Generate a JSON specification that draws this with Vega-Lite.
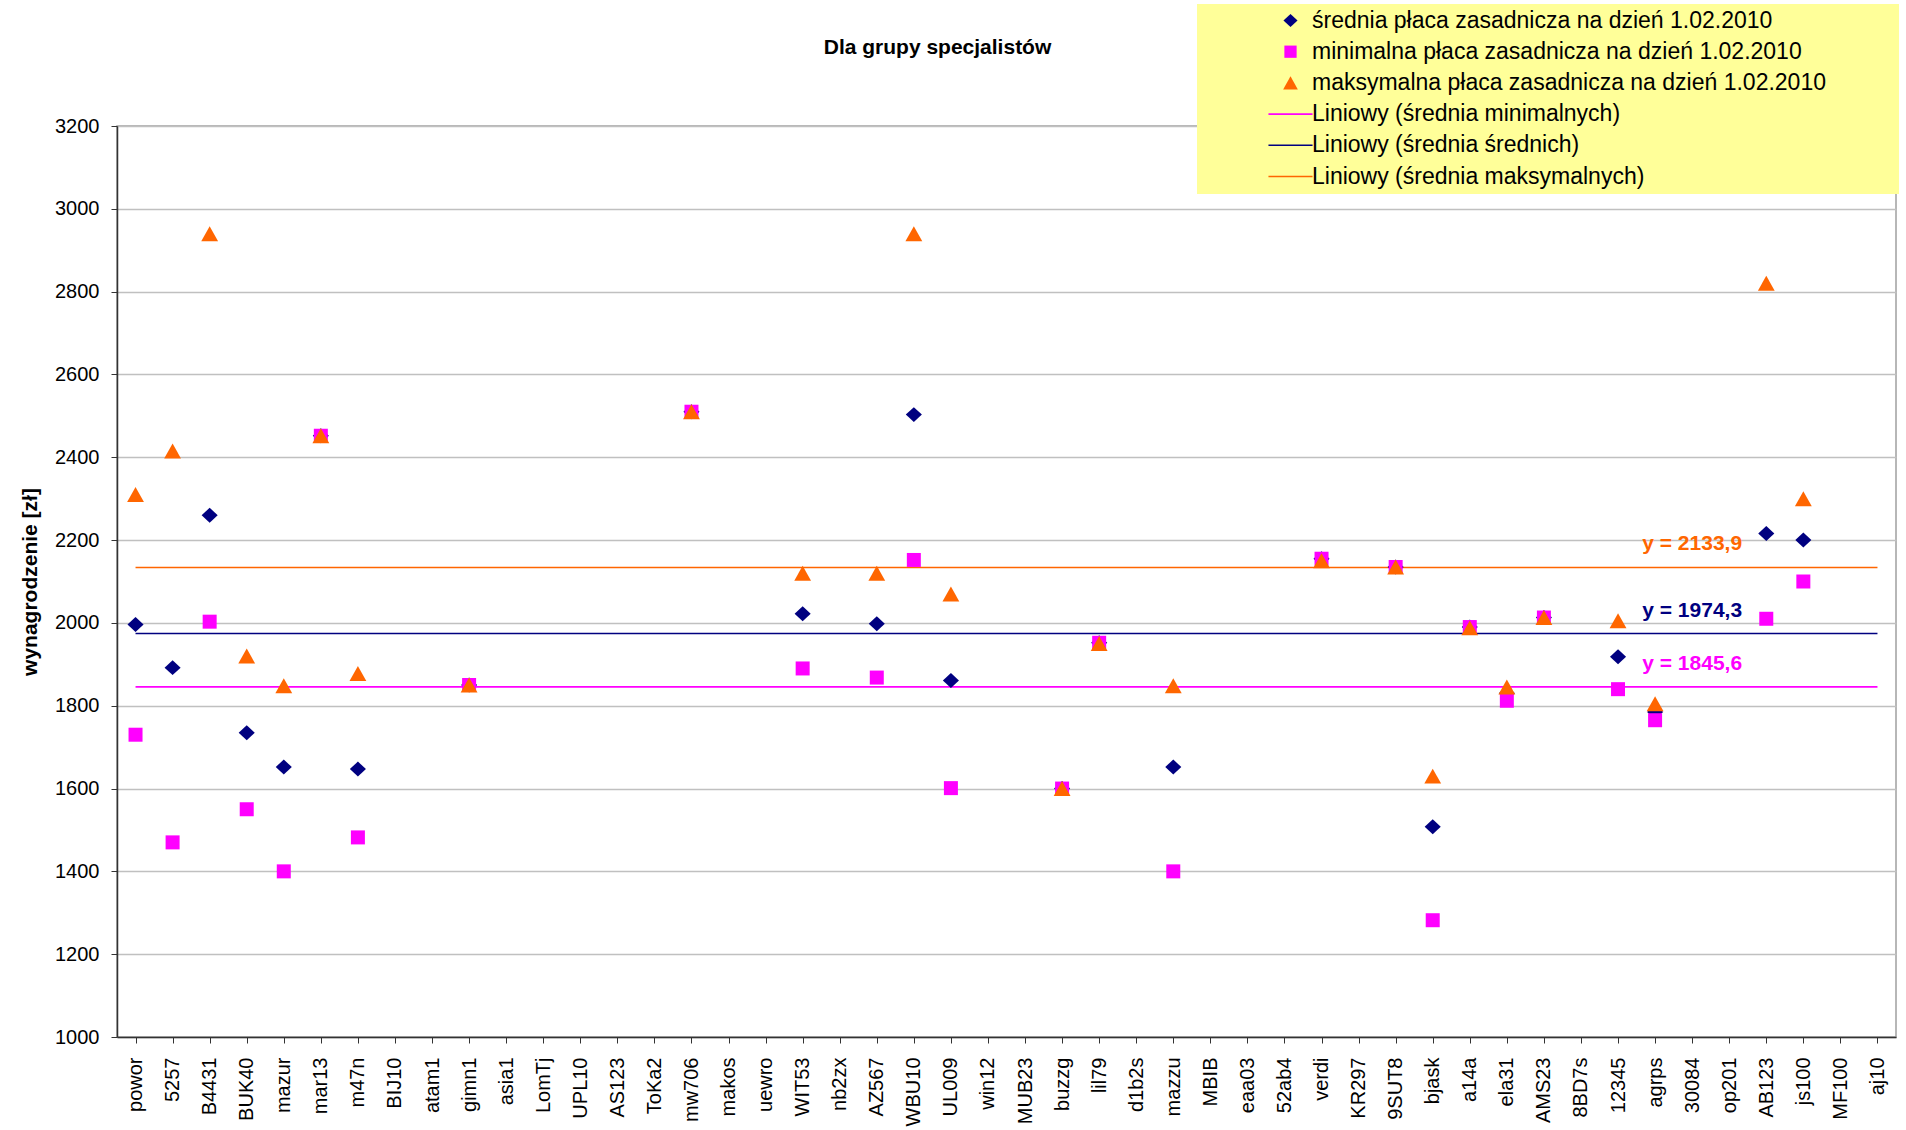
{
  "$schema": "https://vega.github.io/schema/vega-lite/v6.json",
  "width": 1779,
  "height": 911,
  "autosize": {"type": "none"},
  "padding": {"left": 117, "top": 126, "right": 10, "bottom": 93},
  "background": "white",
  "title": {"text": "Dla grupy specjalistów", "font": "Liberation Sans", "fontSize": 21, "fontWeight": "bold", "color": "#000000", "anchor": "middle", "dx": -69, "offset": -54},
  "config": {
    "view": {"stroke": "#a0a0a0", "strokeWidth": 1.5},
    "axis": {"labelFont": "Liberation Sans", "labelColor": "#000000", "titleFont": "Liberation Sans", "titleColor": "#000000"}
  },
  "resolve": {"legend": {"color": "independent", "shape": "independent"}},
  "datasets": {
    "pts": [
      {"kod": "powor", "seria": "średnia płaca zasadnicza na dzień 1.02.2010", "wartosc": 1996},
      {"kod": "5257", "seria": "średnia płaca zasadnicza na dzień 1.02.2010", "wartosc": 1892},
      {"kod": "B4431", "seria": "średnia płaca zasadnicza na dzień 1.02.2010", "wartosc": 2260},
      {"kod": "BUK40", "seria": "średnia płaca zasadnicza na dzień 1.02.2010", "wartosc": 1735},
      {"kod": "mazur", "seria": "średnia płaca zasadnicza na dzień 1.02.2010", "wartosc": 1652},
      {"kod": "mar13", "seria": "średnia płaca zasadnicza na dzień 1.02.2010", "wartosc": 2452},
      {"kod": "m47n", "seria": "średnia płaca zasadnicza na dzień 1.02.2010", "wartosc": 1647},
      {"kod": "gimn1", "seria": "średnia płaca zasadnicza na dzień 1.02.2010", "wartosc": 1850},
      {"kod": "mw706", "seria": "średnia płaca zasadnicza na dzień 1.02.2010", "wartosc": 2510},
      {"kod": "WIT53", "seria": "średnia płaca zasadnicza na dzień 1.02.2010", "wartosc": 2022},
      {"kod": "AZ567", "seria": "średnia płaca zasadnicza na dzień 1.02.2010", "wartosc": 1998},
      {"kod": "WBU10", "seria": "średnia płaca zasadnicza na dzień 1.02.2010", "wartosc": 2503},
      {"kod": "UL009", "seria": "średnia płaca zasadnicza na dzień 1.02.2010", "wartosc": 1861},
      {"kod": "buzzg", "seria": "średnia płaca zasadnicza na dzień 1.02.2010", "wartosc": 1600},
      {"kod": "lil79", "seria": "średnia płaca zasadnicza na dzień 1.02.2010", "wartosc": 1952},
      {"kod": "mazzu", "seria": "średnia płaca zasadnicza na dzień 1.02.2010", "wartosc": 1652},
      {"kod": "verdi", "seria": "średnia płaca zasadnicza na dzień 1.02.2010", "wartosc": 2155},
      {"kod": "9SUT8", "seria": "średnia płaca zasadnicza na dzień 1.02.2010", "wartosc": 2135},
      {"kod": "bjask", "seria": "średnia płaca zasadnicza na dzień 1.02.2010", "wartosc": 1508},
      {"kod": "a14a", "seria": "średnia płaca zasadnicza na dzień 1.02.2010", "wartosc": 1990},
      {"kod": "ela31", "seria": "średnia płaca zasadnicza na dzień 1.02.2010", "wartosc": 1830},
      {"kod": "AMS23", "seria": "średnia płaca zasadnicza na dzień 1.02.2010", "wartosc": 2013},
      {"kod": "12345", "seria": "średnia płaca zasadnicza na dzień 1.02.2010", "wartosc": 1918},
      {"kod": "agrps", "seria": "średnia płaca zasadnicza na dzień 1.02.2010", "wartosc": 1785},
      {"kod": "AB123", "seria": "średnia płaca zasadnicza na dzień 1.02.2010", "wartosc": 2216},
      {"kod": "js100", "seria": "średnia płaca zasadnicza na dzień 1.02.2010", "wartosc": 2200},
      {"kod": "powor", "seria": "minimalna płaca zasadnicza na dzień 1.02.2010", "wartosc": 1730},
      {"kod": "5257", "seria": "minimalna płaca zasadnicza na dzień 1.02.2010", "wartosc": 1470},
      {"kod": "B4431", "seria": "minimalna płaca zasadnicza na dzień 1.02.2010", "wartosc": 2003},
      {"kod": "BUK40", "seria": "minimalna płaca zasadnicza na dzień 1.02.2010", "wartosc": 1550},
      {"kod": "mazur", "seria": "minimalna płaca zasadnicza na dzień 1.02.2010", "wartosc": 1400},
      {"kod": "mar13", "seria": "minimalna płaca zasadnicza na dzień 1.02.2010", "wartosc": 2452},
      {"kod": "m47n", "seria": "minimalna płaca zasadnicza na dzień 1.02.2010", "wartosc": 1482},
      {"kod": "gimn1", "seria": "minimalna płaca zasadnicza na dzień 1.02.2010", "wartosc": 1850},
      {"kod": "mw706", "seria": "minimalna płaca zasadnicza na dzień 1.02.2010", "wartosc": 2510},
      {"kod": "WIT53", "seria": "minimalna płaca zasadnicza na dzień 1.02.2010", "wartosc": 1890},
      {"kod": "AZ567", "seria": "minimalna płaca zasadnicza na dzień 1.02.2010", "wartosc": 1868},
      {"kod": "WBU10", "seria": "minimalna płaca zasadnicza na dzień 1.02.2010", "wartosc": 2152},
      {"kod": "UL009", "seria": "minimalna płaca zasadnicza na dzień 1.02.2010", "wartosc": 1601},
      {"kod": "buzzg", "seria": "minimalna płaca zasadnicza na dzień 1.02.2010", "wartosc": 1600},
      {"kod": "lil79", "seria": "minimalna płaca zasadnicza na dzień 1.02.2010", "wartosc": 1952},
      {"kod": "mazzu", "seria": "minimalna płaca zasadnicza na dzień 1.02.2010", "wartosc": 1400},
      {"kod": "verdi", "seria": "minimalna płaca zasadnicza na dzień 1.02.2010", "wartosc": 2155},
      {"kod": "9SUT8", "seria": "minimalna płaca zasadnicza na dzień 1.02.2010", "wartosc": 2135},
      {"kod": "bjask", "seria": "minimalna płaca zasadnicza na dzień 1.02.2010", "wartosc": 1282},
      {"kod": "a14a", "seria": "minimalna płaca zasadnicza na dzień 1.02.2010", "wartosc": 1990},
      {"kod": "ela31", "seria": "minimalna płaca zasadnicza na dzień 1.02.2010", "wartosc": 1812},
      {"kod": "AMS23", "seria": "minimalna płaca zasadnicza na dzień 1.02.2010", "wartosc": 2013},
      {"kod": "12345", "seria": "minimalna płaca zasadnicza na dzień 1.02.2010", "wartosc": 1840},
      {"kod": "agrps", "seria": "minimalna płaca zasadnicza na dzień 1.02.2010", "wartosc": 1765},
      {"kod": "AB123", "seria": "minimalna płaca zasadnicza na dzień 1.02.2010", "wartosc": 2010},
      {"kod": "js100", "seria": "minimalna płaca zasadnicza na dzień 1.02.2010", "wartosc": 2100},
      {"kod": "powor", "seria": "maksymalna płaca zasadnicza na dzień 1.02.2010", "wartosc": 2310},
      {"kod": "5257", "seria": "maksymalna płaca zasadnicza na dzień 1.02.2010", "wartosc": 2415},
      {"kod": "B4431", "seria": "maksymalna płaca zasadnicza na dzień 1.02.2010", "wartosc": 2940},
      {"kod": "BUK40", "seria": "maksymalna płaca zasadnicza na dzień 1.02.2010", "wartosc": 1920},
      {"kod": "mazur", "seria": "maksymalna płaca zasadnicza na dzień 1.02.2010", "wartosc": 1848},
      {"kod": "mar13", "seria": "maksymalna płaca zasadnicza na dzień 1.02.2010", "wartosc": 2452},
      {"kod": "m47n", "seria": "maksymalna płaca zasadnicza na dzień 1.02.2010", "wartosc": 1878},
      {"kod": "gimn1", "seria": "maksymalna płaca zasadnicza na dzień 1.02.2010", "wartosc": 1850},
      {"kod": "mw706", "seria": "maksymalna płaca zasadnicza na dzień 1.02.2010", "wartosc": 2510},
      {"kod": "WIT53", "seria": "maksymalna płaca zasadnicza na dzień 1.02.2010", "wartosc": 2120},
      {"kod": "AZ567", "seria": "maksymalna płaca zasadnicza na dzień 1.02.2010", "wartosc": 2120},
      {"kod": "WBU10", "seria": "maksymalna płaca zasadnicza na dzień 1.02.2010", "wartosc": 2940},
      {"kod": "UL009", "seria": "maksymalna płaca zasadnicza na dzień 1.02.2010", "wartosc": 2070},
      {"kod": "buzzg", "seria": "maksymalna płaca zasadnicza na dzień 1.02.2010", "wartosc": 1600},
      {"kod": "lil79", "seria": "maksymalna płaca zasadnicza na dzień 1.02.2010", "wartosc": 1950},
      {"kod": "mazzu", "seria": "maksymalna płaca zasadnicza na dzień 1.02.2010", "wartosc": 1848},
      {"kod": "verdi", "seria": "maksymalna płaca zasadnicza na dzień 1.02.2010", "wartosc": 2150},
      {"kod": "9SUT8", "seria": "maksymalna płaca zasadnicza na dzień 1.02.2010", "wartosc": 2135},
      {"kod": "bjask", "seria": "maksymalna płaca zasadnicza na dzień 1.02.2010", "wartosc": 1630},
      {"kod": "a14a", "seria": "maksymalna płaca zasadnicza na dzień 1.02.2010", "wartosc": 1988},
      {"kod": "ela31", "seria": "maksymalna płaca zasadnicza na dzień 1.02.2010", "wartosc": 1845},
      {"kod": "AMS23", "seria": "maksymalna płaca zasadnicza na dzień 1.02.2010", "wartosc": 2013},
      {"kod": "12345", "seria": "maksymalna płaca zasadnicza na dzień 1.02.2010", "wartosc": 2005},
      {"kod": "agrps", "seria": "maksymalna płaca zasadnicza na dzień 1.02.2010", "wartosc": 1805},
      {"kod": "AB123", "seria": "maksymalna płaca zasadnicza na dzień 1.02.2010", "wartosc": 2820},
      {"kod": "js100", "seria": "maksymalna płaca zasadnicza na dzień 1.02.2010", "wartosc": 2300}
    ],
    "trend": [
      {"seria": "Liniowy (średnia minimalnych)", "wartosc": 1845.6, "etykieta": "y = 1845,6"},
      {"seria": "Liniowy (średnia średnich)", "wartosc": 1974.3, "etykieta": "y = 1974,3"},
      {"seria": "Liniowy (średnia maksymalnych)", "wartosc": 2133.9, "etykieta": "y = 2133,9"}
    ]
  },
  "layer": [
    {
      "data": {"name": "trend"},
      "mark": {"type": "rule", "strokeWidth": 1.6},
      "encoding": {
        "x": {"datum": "powor", "type": "nominal"},
        "x2": {"datum": "aj10"},
        "y": {"field": "wartosc", "type": "quantitative"},
        "color": {"field": "seria", "type": "nominal", "legend": null}
      }
    },
    {
      "data": {"name": "pts"},
      "mark": {"type": "point", "filled": true, "size": 196, "opacity": 1, "strokeWidth": 0},
      "encoding": {
        "x": {
          "field": "kod", "type": "nominal", "sort": null,
          "scale": {"type": "point", "padding": 0.5, "domain": ["powor","5257","B4431","BUK40","mazur","mar13","m47n","BIJ10","atam1","gimn1","asia1","LomTj","UPL10","AS123","ToKa2","mw706","makos","uewro","WIT53","nb2zx","AZ567","WBU10","UL009","win12","MUB23","buzzg","lil79","d1b2s","mazzu","MBIB","eaa03","52ab4","verdi","KR297","9SUT8","bjask","a14a","ela31","AMS23","8BD7s","12345","agrps","30084","op201","AB123","js100","MF100","aj10"]},
          "axis": {"title": null, "labelAngle": 270, "labelFontSize": 20, "labelPadding": 14, "tickSize": 6, "tickColor": "#333333", "domainColor": "#333333", "domainWidth": 1.5, "grid": false}
        },
        "y": {
          "field": "wartosc", "type": "quantitative",
          "scale": {"domain": [1000, 3200], "nice": false, "zero": false},
          "axis": {"title": "wynagrodzenie [zł]", "format": "d", "titleFontSize": 21, "titleFontWeight": "bold", "titlePadding": 14, "values": [1000,1200,1400,1600,1800,2000,2200,2400,2600,2800,3000,3200], "labelFontSize": 20, "labelPadding": 12, "tickSize": 6, "tickColor": "#333333", "domainColor": "#333333", "domainWidth": 1.5, "grid": true, "gridColor": "#c0c0c0", "gridWidth": 1.5}
        },
        "color": {
          "field": "seria", "type": "nominal",
          "scale": {
            "domain": ["średnia płaca zasadnicza na dzień 1.02.2010","minimalna płaca zasadnicza na dzień 1.02.2010","maksymalna płaca zasadnicza na dzień 1.02.2010","Liniowy (średnia minimalnych)","Liniowy (średnia średnich)","Liniowy (średnia maksymalnych)"],
            "range": ["#000080","#ff00ff","#ff6600","#ff00ff","#000080","#ff6600"]
          },
          "legend": {"orient": "none", "legendX": 1080, "legendY": -122, "title": "\u00a0", "titleOrient": "right", "titlePadding": 68, "fillColor": "#ffff99", "padding": 5, "symbolSize": 150, "symbolOffset": 77, "labelOffset": 10, "labelFont": "Liberation Sans", "labelFontSize": 23, "labelColor": "#000000", "labelLimit": 0, "rowPadding": 7.2, "symbolStrokeWidth": 0}
        },
        "shape": {
          "field": "seria", "type": "nominal",
          "scale": {
            "domain": ["średnia płaca zasadnicza na dzień 1.02.2010","minimalna płaca zasadnicza na dzień 1.02.2010","maksymalna płaca zasadnicza na dzień 1.02.2010","Liniowy (średnia minimalnych)","Liniowy (średnia średnich)","Liniowy (średnia maksymalnych)"],
            "range": ["M-1.15,0L0,-1.07L1.15,0L0,1.07Z","M-1,-1H1V1H-1Z","M0,-1.07L1.2,1.07H-1.2Z","M-3.6,-0.13H3.6V0.13H-3.6Z","M-3.6,-0.13H3.6V0.13H-3.6Z","M-3.6,-0.13H3.6V0.13H-3.6Z"]
          }
        }
      }
    },
    {
      "data": {"name": "trend"},
      "mark": {"type": "text", "font": "Liberation Sans", "fontSize": 21, "fontWeight": "bold", "dy": -23, "align": "center", "baseline": "middle"},
      "encoding": {
        "x": {"datum": "30084", "type": "nominal"},
        "y": {"field": "wartosc", "type": "quantitative"},
        "text": {"field": "etykieta"},
        "color": {"field": "seria", "type": "nominal", "legend": null}
      }
    }
  ]
}
